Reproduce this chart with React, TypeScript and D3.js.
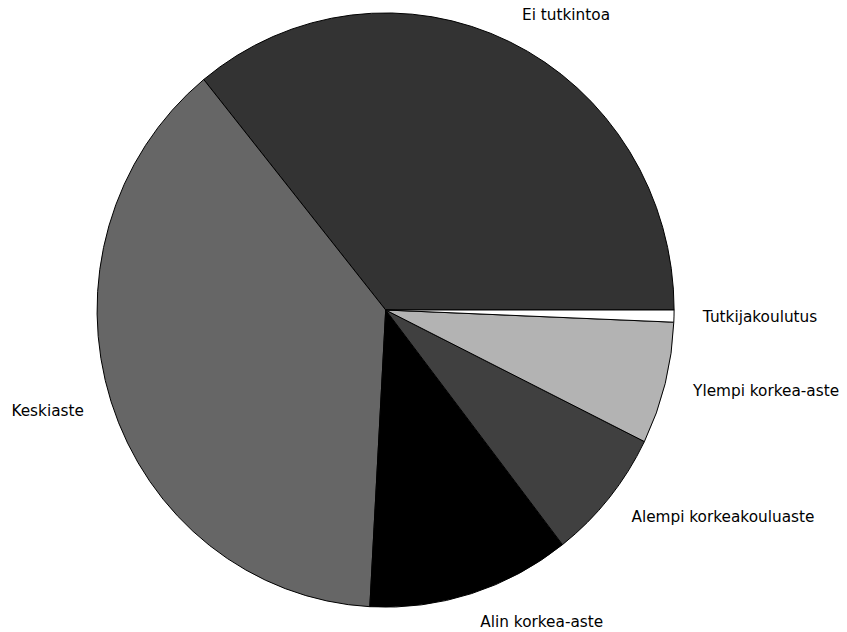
import React from "react";
import * as d3 from "d3";

// Education level shares (%)
const categories = [
  "Ei tutkintoa",
  "Keskiaste",
  "Alin korkea-aste",
  "Alempi korkeakouluaste",
  "Ylempi korkea-aste",
  "Tutkijakoulutus",
];
const shares = [35.86, 38.27, 11.38, 7.19, 6.64, 0.66];
const fills = ["#333333", "#666666", "#000000", "#404040", "#b3b3b3", "#ffffff"];

const W = 847;
const H = 632;
const cx = 385.7;
const cy = 310;
const rx = 288.4;
const ry = 297;

export default function App() {
  // Counter-clockwise from 3 o'clock
  const pie = d3
    .pie<number>()
    .sort(null)
    .startAngle(Math.PI / 2)
    .endAngle(Math.PI / 2 - 2 * Math.PI);
  const arcs = pie(shares);
  const arc = d3.arc<d3.PieArcDatum<number>>().innerRadius(0).outerRadius(1);

  return (
    <div style={{ position: "fixed", left: 0, top: 0 }}>
      <svg width={W} height={H} style={{ display: "block", background: "#fff" }}>
        <g transform={`translate(${cx},${cy}) scale(${rx},${ry})`}>
          {arcs.map((a, i) => (
            <path
              key={categories[i]}
              d={arc(a) || ""}
              fill={fills[i]}
              stroke="#000"
              strokeWidth={1}
              strokeLinejoin="round"
              vectorEffect="non-scaling-stroke"
            />
          ))}
        </g>
        <g fontFamily="DejaVu Sans" fontSize={15.3} fill="#000">
          {arcs.map((a, i) => {
            const mid = (a.startAngle + a.endAngle) / 2;
            const x = cx + 1.1 * rx * Math.sin(mid);
            const y = cy - 1.1 * ry * Math.cos(mid);
            return (
              <text
                key={categories[i]}
                x={x}
                y={y}
                textAnchor={x > cx ? "start" : "end"}
                dominantBaseline="central"
              >
                {categories[i]}
              </text>
            );
          })}
        </g>
      </svg>
    </div>
  );
}
